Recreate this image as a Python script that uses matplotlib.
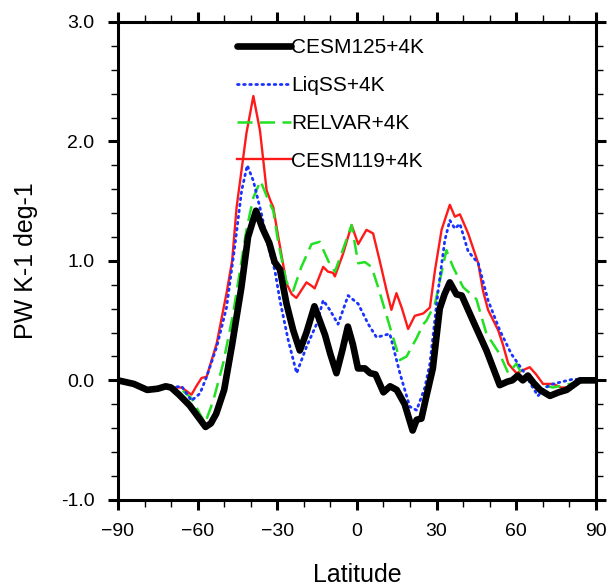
import matplotlib
matplotlib.use('Agg')
import numpy as np
import matplotlib.pyplot as plt
from matplotlib.ticker import MultipleLocator, FormatStrFormatter

plt.rcParams['font.family'] = ['Liberation Sans', 'DejaVu Sans']

# Common southern high-latitude part (all runs nearly identical there)
lat_common = [-90, -84, -79, -75, -72, -70]
val_common = [0.0, -0.03, -0.08, -0.07, -0.05, -0.06]

cesm125_lat = lat_common + [-67, -63, -60, -57, -55, -53, -50, -47, -43.5, -41, -38,
                            -35.5, -33, -31, -29, -26.5, -24, -21.5, -19, -16, -14, -12,
                            -10, -7.7, -5.5, -3.4, -1.5, 0.4, 3, 5, 7, 10, 12.5, 15, 18,
                            21, 22.5, 24.3, 26, 28.6, 31.2, 33, 35, 37.5, 39.5, 43.7,
                            48.8, 53.8, 56.8, 58.5, 60.6, 62.5, 64.4, 66.5, 69, 72.7,
                            76, 79, 84, 90]
cesm125_val = val_common + [-0.12, -0.21, -0.30, -0.39, -0.36, -0.28, -0.08, 0.30, 0.78,
                            1.20, 1.42, 1.27, 1.15, 0.99, 0.93, 0.64, 0.42, 0.25, 0.40,
                            0.62, 0.50, 0.38, 0.22, 0.06, 0.25, 0.45, 0.30, 0.10, 0.10,
                            0.06, 0.05, -0.10, -0.05, -0.08, -0.20, -0.42, -0.33, -0.32,
                            -0.15, 0.10, 0.60, 0.72, 0.82, 0.72, 0.71, 0.50, 0.25, -0.04,
                            -0.01, 0.00, 0.04, 0.00, 0.04, -0.02, -0.08, -0.13, -0.10,
                            -0.08, 0.00, 0.00]

liqss_lat = lat_common + [-66, -62.3, -59.1, -56.6, -52.8, -49.1, -46, -43.4, -41.3, -39,
                          -35.9, -33.4, -30.9, -29, -25.9, -22.7, -19, -15.2, -12.7,
                          -10.2, -7.1, -3.3, 0.5, 4.3, 7.4, 12.4, 16.2, 19.9, 22.5, 25.6,
                          27.5, 30.6, 33.1, 35, 36.9, 38.8, 41.9, 45.7, 49.4, 53.8, 58.2,
                          62.6, 66, 68.2, 71, 73.9, 81.4, 90]
liqss_val = val_common + [-0.05, -0.17, -0.11, 0.03, 0.28, 0.61, 1.12, 1.59, 1.80, 1.67,
                          1.39, 1.12, 0.92, 0.67, 0.34, 0.06, 0.28, 0.47, 0.67, 0.59,
                          0.47, 0.71, 0.64, 0.47, 0.36, 0.39, 0.06, -0.22, -0.25, -0.06,
                          0.14, 0.75, 1.17, 1.34, 1.27, 1.31, 1.08, 0.98, 0.67, 0.42,
                          0.22, 0.08, -0.05, -0.13, -0.06, -0.03, 0.01, 0.00]

relvar_lat = lat_common + [-66, -62.3, -57.2, -54.1, -50.4, -46.6, -41.6, -39, -36.3, -33.4,
                           -31.5, -29.6, -26.5, -24, -20.9, -17.1, -14, -10.8, -8.3, -5.8,
                           -2, 0.5, 3, 5.5, 8, 12.4, 16.2, 18.7, 22.4, 25, 26.2, 29.4,
                           33.7, 36.2, 40, 45, 48.8, 53.8, 57, 60.1, 62.6, 67.6, 73.9,
                           80.2, 90]
relvar_val = val_common + [-0.08, -0.15, -0.36, -0.17, 0.14, 0.56, 1.26, 1.53, 1.67, 1.51,
                           1.42, 1.15, 0.82, 0.75, 0.95, 1.14, 1.16, 1.00, 0.91, 1.06,
                           1.30, 0.98, 0.99, 0.95, 0.78, 0.45, 0.17, 0.20, 0.35, 0.47,
                           0.50, 0.64, 1.09, 0.95, 0.78, 0.68, 0.39, 0.22, 0.06, 0.14,
                           0.03, -0.03, -0.06, -0.03, 0.00]

cesm119_lat = lat_common + [-66, -62.3, -60.5, -58.5, -56.6, -52.8, -49.1, -47, -45.3, -41.6,
                            -39, -36.5, -34, -32.5, -31.5, -30, -26.5, -24.5, -22.8, -19,
                            -17, -15.9, -12.7, -10.9, -9, -8.3, -5.2, -2, 0.5, 3.6, 6.1,
                            8.6, 11.2, 13, 14.9, 17, 19.3, 21.8, 25, 27.5, 29.4, 31.9, 35,
                            36.9, 38.8, 41.9, 45.7, 47.5, 49.4, 53.2, 55, 57, 60.1, 62,
                            65.1, 67.5, 70.1, 73.9, 77, 80.2, 84, 90]
cesm119_val = val_common + [-0.06, -0.12, -0.05, 0.02, 0.03, 0.31, 0.73, 1.00, 1.45, 2.07,
                            2.38, 2.09, 1.59, 1.50, 1.45, 1.25, 0.81, 0.72, 0.69, 0.82,
                            0.79, 0.77, 0.95, 0.91, 0.90, 0.87, 1.06, 1.30, 1.14, 1.26,
                            1.23, 1.00, 0.75, 0.59, 0.73, 0.60, 0.43, 0.54, 0.56, 0.61,
                            0.92, 1.26, 1.47, 1.37, 1.39, 1.23, 0.98, 0.75, 0.59, 0.42,
                            0.30, 0.14, 0.06, 0.08, 0.11, 0.05, -0.03, -0.03, -0.06,
                            -0.06, -0.01, 0.00]

labels = ['CESM125+4K', 'LiqSS+4K', 'RELVAR+4K', 'CESM119+4K']
xticks = [-90, -60, -30, 0, 30, 60, 90]


def main():
    fig = plt.figure(figsize=(6.08, 5.88), dpi=100)
    ax = fig.add_axes([0.194, 0.150, 0.786, 0.8126])

    l_red, = ax.plot(cesm119_lat, cesm119_val, color='#ff1a1a', linewidth=1.7, zorder=2)
    l_green, = ax.plot(relvar_lat, relvar_val, color='#22e022', linewidth=1.8,
                       dashes=(6, 3), zorder=3)
    l_blue, = ax.plot(liqss_lat, liqss_val, color='#1a33ff', linewidth=2.0,
                      linestyle=(0, (0.6, 1.6)), dash_capstyle='round', zorder=4)
    l_black, = ax.plot(cesm125_lat, cesm125_val, color='black', linewidth=4.8,
                       solid_capstyle='round', zorder=5)

    ax.legend([l_black, l_blue, l_green, l_red], labels, loc='upper left',
              bbox_to_anchor=(0.21, 1.005), frameon=False, fontsize=15,
              handlelength=2.6, handletextpad=0.0, labelspacing=0.9)

    ax.set_xlim(-90, 90)
    ax.set_ylim(-1.0, 3.0)
    ax.set_xticks(xticks)
    ax.xaxis.set_minor_locator(MultipleLocator(10))
    ax.yaxis.set_major_locator(MultipleLocator(1.0))
    ax.yaxis.set_minor_locator(MultipleLocator(0.2))
    ax.yaxis.set_major_formatter(FormatStrFormatter('%.1f'))

    ax.tick_params(which='both', direction='out', top=True, right=True,
                   labeltop=False, labelright=False)
    ax.tick_params(which='major', length=7, width=2.2, labelsize=14, pad=10)
    ax.tick_params(which='minor', length=5, width=1.0)
    for s in ax.spines.values():
        s.set_linewidth(2.2)

    ax.set_xlabel('Latitude', fontsize=18, labelpad=16)
    ax.set_ylabel('PW K-1 deg-1', fontsize=18, labelpad=16)

    fig.savefig('out.png', dpi=100)
    plt.close(fig)


if __name__ == "__main__":
    main()
